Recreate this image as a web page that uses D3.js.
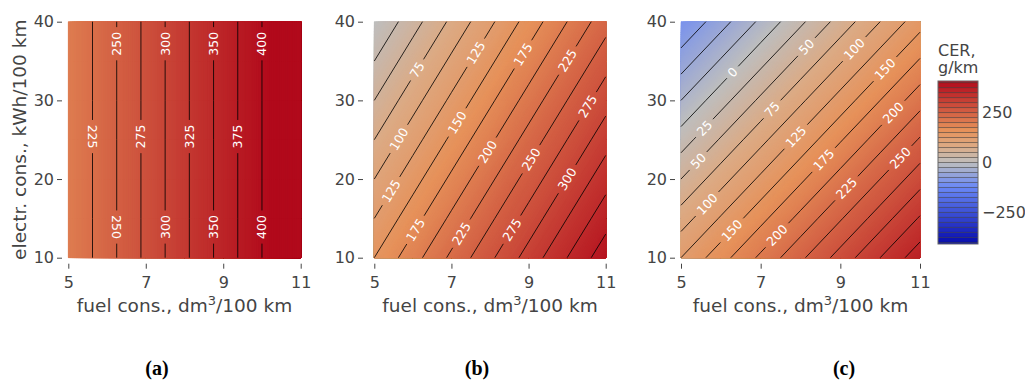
<!DOCTYPE html>
<html>
<head>
<meta charset="utf-8">
<script src="https://cdn.jsdelivr.net/npm/d3@7"></script>
<style>
  body { margin: 0; background: #fff; }
  svg { display: block; }
</style>
</head>
<body>
<div id="chart"></div>
<script>
// grid axes
const fuel = [5, 6, 7, 8, 9, 10, 11];
const electr = [10, 15, 20, 25, 30, 35, 40];

// CER values, g/km (rows = electr ascending, cols = fuel ascending)
const cerA = [
  [200, 240, 280, 320, 360, 400, 440],
  [200, 240, 280, 320, 360, 400, 440],
  [200, 240, 280, 320, 360, 400, 440],
  [200, 240, 280, 320, 360, 400, 440],
  [200, 240, 280, 320, 360, 400, 440],
  [200, 240, 280, 320, 360, 400, 440],
  [200, 240, 280, 320, 360, 400, 440]
];
const cerB = [
  [150, 190, 230, 270, 310, 350, 390],
  [125, 165, 205, 245, 285, 325, 365],
  [100, 140, 180, 220, 260, 300, 340],
  [75, 115, 155, 195, 235, 275, 315],
  [50, 90, 130, 170, 210, 250, 290],
  [25, 65, 105, 145, 185, 225, 265],
  [0, 40, 80, 120, 160, 200, 240]
];
const cerC = [
  [125, 165, 205, 245, 285, 325, 365],
  [87.5, 127.5, 167.5, 207.5, 247.5, 287.5, 327.5],
  [50, 90, 130, 170, 210, 250, 290],
  [12.5, 52.5, 92.5, 132.5, 172.5, 212.5, 252.5],
  [-25, 15, 55, 95, 135, 175, 215],
  [-62.5, -22.5, 17.5, 57.5, 97.5, 137.5, 177.5],
  [-100, -60, -20, 20, 60, 100, 140]
];

// contour labels: [level, fuel, electr, flipped]
const labelsA = [
  [250, 6.3, 37.2, 0], [300, 7.5, 37.2, 0], [350, 8.75, 37.2, 0], [400, 10, 37.2, 0],
  [225, 5.6, 25.4, 1], [275, 6.9, 25.4, 0], [325, 8.1, 25.4, 0], [375, 9.4, 25.4, 0],
  [250, 6.25, 13.9, 1], [300, 7.5, 13.9, 0], [350, 8.75, 13.9, 0], [400, 10, 13.9, 0]
];
const labelsB = [
  [75, 6.1, 33.9, 0], [125, 7.65, 36.0, 0], [175, 8.87, 35.8, 0], [225, 10.06, 34.9, 0],
  [275, 10.55, 29.2, 0], [100, 5.67, 25.0, 0], [150, 7.18, 27.1, 0], [200, 7.96, 23.4, 0],
  [250, 9.1, 22.4, 0], [300, 10.03, 19.9, 0], [125, 5.49, 18.3, 0], [175, 6.08, 13.5, 0],
  [225, 7.31, 12.9, 0], [275, 8.59, 13.5, 0]
];
const labelsC = [
  [0, 6.31, 33.5, 0], [50, 8.15, 36.8, 0], [100, 9.33, 36.6, 0], [150, 10.2, 33.6, 0],
  [25, 5.6, 26.4, 0], [75, 7.3, 28.8, 0], [200, 10.33, 28.4, 0], [50, 5.41, 22.4, 0],
  [125, 7.9, 25.3, 0], [175, 8.59, 22.4, 0], [250, 10.48, 22.8, 0], [100, 5.64, 16.9, 0],
  [225, 9.2, 18.6, 0], [150, 6.27, 13.5, 0], [200, 7.4, 12.9, 0]
];

const levels = d3.range(-400, 401, 25);
const fuelTicks = [5, 7, 9, 11];
const electrTicks = [10, 20, 30, 40];
const cbarTicks = [-250, 0, 250];
const cbarRange = [-408, 408];

const W = 1025, H = 381;
const plotTop = 21.7, plotBottom = 257.7;
const grey = '#444';
const sans = '"DejaVu Sans", Verdana, sans-serif';

// plotly RdBu
const stops = [[0, 'rgb(5,10,172)'], [0.35, 'rgb(106,137,247)'], [0.5, 'rgb(190,190,190)'],
  [0.6, 'rgb(220,170,132)'], [0.7, 'rgb(230,145,90)'], [1, 'rgb(178,10,28)']];
const color = d3.scaleLinear()
  .domain(stops.map(s => cbarRange[0] + s[0] * (cbarRange[1] - cbarRange[0])))
  .range(stops.map(s => s[1]))
  .clamp(true);

const svg = d3.select('#chart').append('svg')
  .attr('width', W)
  .attr('height', H)
  .style('font-family', sans);

const panels = [
  { z: cerA, labels: labelsA, left: 68.3, right: 300.7, tickX: 62, tag: '(a)', tagX: 157 },
  { z: cerB, labels: labelsB, left: 374.3, right: 605.7, tickX: 363, tag: '(b)', tagX: 477 },
  { z: cerC, labels: labelsC, left: 681, right: 920, tickX: 675, tag: '(c)', tagX: 844 }
];

const holeH = 7;
const holeW = v => String(v).length * 4.2 + 4;

function styleAxis(g) {
  g.attr('font-family', sans).attr('font-size', 16);
  g.select('.domain').remove();
  g.selectAll('.tick line').attr('stroke', grey);
  g.selectAll('.tick text').attr('fill', grey);
}

panels.forEach((p, k) => {
  const xs = d3.scaleLinear().domain([5, 11]).range([p.left, p.right]);
  const ys = d3.scaleLinear().domain([10, 40]).range([plotBottom, plotTop]);
  // contour grid coords -> data (clamped variant keeps fills inside the plot)
  const gx = d3.scaleLinear().domain([0.5, fuel.length - 0.5]).range([fuel[0], fuel[fuel.length - 1]]);
  const gy = d3.scaleLinear().domain([0.5, electr.length - 0.5]).range([electr[0], electr[electr.length - 1]]);
  const gxc = gx.copy().clamp(true), gyc = gy.copy().clamp(true);
  const toPx = c => [xs(gx(c[0])), ys(gy(c[1]))];
  const fillPath = d3.geoPath(d3.geoTransform({
    point(x, y) { this.stream.point(xs(gxc(x)), ys(gyc(y))); }
  }));

  const values = p.z.flat();
  const contours = d3.contours().size([fuel.length, electr.length]);
  const lo = d3.min(values), hi = d3.max(values);
  const pw = p.right - p.left, ph = plotBottom - plotTop;

  const g = svg.append('g');
  const plot = g.append('g');

  plot.append('rect')
    .attr('x', p.left).attr('y', plotTop)
    .attr('width', pw).attr('height', ph)
    .attr('fill', color(lo));

  // smooth fill: many thin bands
  const fine = d3.range(Math.floor(lo / 2) * 2 - 2, hi + 2, 2);
  plot.append('g').selectAll('path')
    .data(contours.thresholds(fine)(values))
    .join('path')
    .attr('d', fillPath)
    .attr('fill', d => color(d.value + 1))
    .attr('stroke', d => color(d.value + 1))
    .attr('stroke-width', 0.3);

  const lines = contours.thresholds(levels)(values);

  // label placement: snap to the contour line
  const placed = p.labels.map(([v, f, e, flip]) => {
    const geom = lines.find(c => c.value === v);
    const px = xs(f), py = ys(e);
    let best = null;
    geom.coordinates.forEach(poly => poly.forEach(ring => {
      for (let i = 1; i < ring.length; i++) {
        const a = toPx(ring[i - 1]), b = toPx(ring[i]);
        const dx = b[0] - a[0], dy = b[1] - a[1], L2 = dx * dx + dy * dy;
        if (!L2) continue;
        let t = ((px - a[0]) * dx + (py - a[1]) * dy) / L2;
        t = Math.max(0, Math.min(1, t));
        const qx = a[0] + t * dx, qy = a[1] + t * dy;
        const d = (qx - px) ** 2 + (qy - py) ** 2;
        if (!best || d < best.d) best = { d, x: qx, y: qy, ang: Math.atan2(dy, dx) * 180 / Math.PI };
      }
    }));
    let ang = best.ang;
    if (ang >= 90) ang -= 180;
    if (ang < -90) ang += 180;
    if (flip) ang += 180;
    return { v, x: best.x, y: best.y, ang };
  });

  // part of a segment that lies inside the plot rectangle
  function inRect(a, dx, dy) {
    let t0 = 0, t1 = 1;
    const tests = [[-dx, a[0] - p.left], [dx, p.right - a[0]], [-dy, a[1] - plotTop], [dy, plotBottom - a[1]]];
    for (const [pp, q] of tests) {
      if (Math.abs(pp) < 1e-12) {
        if (q < -1e-6) return null;
      } else {
        const r = q / pp;
        if (pp < 0) t0 = Math.max(t0, r); else t1 = Math.min(t1, r);
      }
    }
    return t1 > t0 ? [t0, t1] : null;
  }

  // contour line, kept inside the plot, with gaps behind its labels
  function linePath(geom) {
    const labs = placed.filter(l => l.v === geom.value);
    const ctx = d3.path();
    geom.coordinates.forEach(poly => poly.forEach(ring => {
      let last = null;
      for (let i = 1; i < ring.length; i++) {
        const a = toPx(ring[i - 1]), b = toPx(ring[i]);
        const dx = b[0] - a[0], dy = b[1] - a[1];
        const cont = last === i - 1;
        last = null;
        const rr = inRect(a, dx, dy);
        if (!rr) continue;
        const cuts = [];
        labs.forEach(l => {
          const r = l.ang * Math.PI / 180, ux = Math.cos(r), uy = Math.sin(r);
          const s0 = (a[0] - l.x) * ux + (a[1] - l.y) * uy, ds = dx * ux + dy * uy;
          const w0 = -(a[0] - l.x) * uy + (a[1] - l.y) * ux, dw = -dx * uy + dy * ux;
          let t0 = 0, t1 = 1;
          [[s0, ds, holeW(l.v)], [w0, dw, holeH]].forEach(([v0, dv, h]) => {
            if (Math.abs(dv) < 1e-9) {
              if (Math.abs(v0) >= h) { t0 = 1; t1 = 0; }
            } else {
              let ta = (-h - v0) / dv, tb = (h - v0) / dv;
              if (ta > tb) [ta, tb] = [tb, ta];
              t0 = Math.max(t0, ta);
              t1 = Math.min(t1, tb);
            }
          });
          if (t1 > t0) cuts.push([t0, t1]);
        });
        cuts.sort((m, n) => m[0] - n[0]);
        let keep = [];
        let t = rr[0];
        const end = rr[1];
        cuts.forEach(([c0, c1]) => {
          if (c0 > t) keep.push([t, Math.min(c0, end)]);
          t = Math.max(t, c1);
        });
        if (t < end) keep.push([t, end]);
        keep = keep.filter(q => q[1] > q[0]);
        keep.forEach(([t0, t1]) => {
          if (!(cont && t0 === 0)) ctx.moveTo(a[0] + t0 * dx, a[1] + t0 * dy);
          ctx.lineTo(a[0] + t1 * dx, a[1] + t1 * dy);
          if (t1 === 1) last = i;
        });
      }
    }));
    return ctx.toString();
  }

  plot.append('g')
    .selectAll('path')
    .data(lines)
    .join('path')
    .attr('d', linePath)
    .attr('fill', 'none')
    .attr('stroke', '#000')
    .attr('stroke-opacity', 0.9)
    .attr('stroke-width', 0.9);

  plot.append('g').selectAll('text')
    .data(placed)
    .join('text')
    .attr('transform', d => `translate(${d.x},${d.y}) rotate(${d.ang})`)
    .attr('text-anchor', 'middle')
    .attr('dy', '0.36em')
    .attr('fill', '#fff')
    .attr('font-size', 12.5)
    .text(d => d.v);

  // axes
  g.append('g')
    .attr('transform', `translate(0,${plotBottom + 6})`)
    .call(d3.axisBottom(xs).tickValues(fuelTicks).tickFormat(d3.format('d')).tickSize(5).tickPadding(8))
    .call(styleAxis);

  g.append('g')
    .attr('transform', `translate(${p.tickX},0)`)
    .call(d3.axisLeft(ys).tickValues(electrTicks).tickFormat(d3.format('d')).tickSize(5).tickPadding(3))
    .call(styleAxis);

  const xt = g.append('text')
    .attr('x', (p.left + p.right) / 2)
    .attr('y', 312)
    .attr('text-anchor', 'middle')
    .attr('font-size', 18.5)
    .attr('fill', grey);
  xt.append('tspan').text('fuel cons., dm');
  xt.append('tspan').attr('font-size', 13).attr('dy', -7).text('3');
  xt.append('tspan').attr('dy', 7).text('/100 km');

  if (k === 0) {
    g.append('text')
      .attr('transform', `translate(26,${(plotTop + plotBottom) / 2}) rotate(-90)`)
      .attr('text-anchor', 'middle')
      .attr('font-size', 18.5)
      .attr('fill', grey)
      .text('electr. cons., kWh/100 km');
  }

  g.append('text')
    .attr('x', p.tagX)
    .attr('y', 375)
    .attr('text-anchor', 'middle')
    .style('font-family', '"Liberation Serif", "Times New Roman", serif')
    .attr('font-weight', 'bold')
    .attr('font-size', 20)
    .attr('fill', '#000')
    .text(p.tag);
});

// colour bar
const cb = svg.append('g');
const cbX = 938, cbW = 40;
const cbY = d3.scaleLinear().domain(cbarRange).range([244, 81]);
const edges = [cbarRange[0], ...levels, cbarRange[1]];
cb.selectAll('.band')
  .data(d3.pairs(edges))
  .join('rect')
  .attr('x', cbX)
  .attr('y', d => cbY(d[1]))
  .attr('width', cbW)
  .attr('height', d => cbY(d[0]) - cbY(d[1]))
  .attr('fill', d => color((d[0] + d[1]) / 2));
cb.selectAll('.lvl')
  .data(levels)
  .join('line')
  .attr('x1', cbX).attr('x2', cbX + cbW)
  .attr('y1', d => cbY(d)).attr('y2', d => cbY(d))
  .attr('stroke', '#000')
  .attr('stroke-opacity', 0.55)
  .attr('stroke-width', 0.8);
cb.append('rect')
  .attr('x', cbX).attr('y', cbY(cbarRange[1]))
  .attr('width', cbW).attr('height', cbY(cbarRange[0]) - cbY(cbarRange[1]))
  .attr('fill', 'none')
  .attr('stroke', '#666')
  .attr('stroke-width', 1);
cb.selectAll('.tk')
  .data(cbarTicks)
  .join('text')
  .attr('x', cbX + cbW + 4)
  .attr('y', d => cbY(d))
  .attr('dy', '0.36em')
  .attr('font-size', 16)
  .attr('fill', grey)
  .text(d => d3.format('')(d));
cb.append('text')
  .attr('x', cbX).attr('y', 56)
  .attr('font-size', 16).attr('fill', grey)
  .text('CER,');
cb.append('text')
  .attr('x', cbX).attr('y', 73)
  .attr('font-size', 16).attr('fill', grey)
  .text('g/km');
</script>
</body>
</html>
